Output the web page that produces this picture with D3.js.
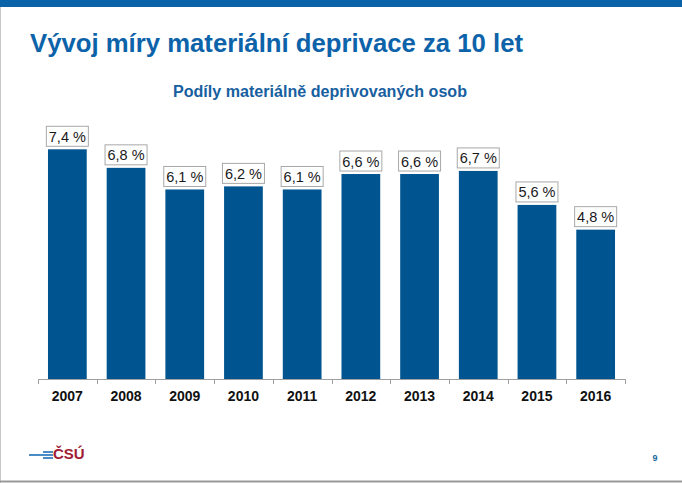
<!DOCTYPE html>
<html><head><meta charset="utf-8">
<script src="https://cdn.jsdelivr.net/npm/d3@7"></script>
<style>body{margin:0;background:#fff}svg{display:block}</style>
</head><body>
<script>
const years = ["2007","2008","2009","2010","2011","2012","2013","2014","2015","2016"];
const shares = [7.4, 6.8, 6.1, 6.2, 6.1, 6.6, 6.6, 6.7, 5.6, 4.8];
const titleText = "Vývoj míry materiální deprivace za 10 let";
const subtitleText = "Podíly materiálně deprivovaných osob";

const W = 682, H = 483;
const FONT = "Liberation Sans, Arial, sans-serif";
const svg = d3.select("body").append("svg").attr("width", W).attr("height", H);
svg.append("rect").attr("width", W).attr("height", H).attr("fill", "#fff");
// frame
svg.append("rect").attr("x", 0).attr("y", 0).attr("width", W).attr("height", 7).attr("fill", "#0a62a8");
svg.append("line").attr("x1", 0.5).attr("x2", 0.5).attr("y1", 7).attr("y2", H).attr("stroke", "#c8c8c8");
svg.append("line").attr("x1", 0).attr("x2", W).attr("y1", 481.5).attr("y2", 481.5).attr("stroke", "#999").attr("stroke-width", 2);

svg.append("text").attr("x", 30).attr("y", 52).text(titleText)
  .attr("font-family", FONT).attr("font-weight", "bold")
  .attr("font-size", 26).attr("textLength", 493).attr("lengthAdjust", "spacingAndGlyphs")
  .attr("fill", "#0d63aa");
svg.append("text").attr("x", 173).attr("y", 97).text(subtitleText)
  .attr("font-family", FONT).attr("font-weight", "bold")
  .attr("font-size", 16).attr("textLength", 294).attr("lengthAdjust", "spacingAndGlyphs")
  .attr("fill", "#17609f");

const x = d3.scaleBand().domain(years).range([38, 625]).paddingInner(0.34).paddingOuter(0.17);
const y = d3.scaleLinear().domain([0, 7.4]).range([378, 149.3]);
const axisY = 379;

const g = svg.append("g");
g.selectAll("rect.bar").data(years).join("rect").attr("class", "bar")
  .attr("x", d => x(d)).attr("width", x.bandwidth())
  .attr("y", (d, i) => y(shares[i])).attr("height", (d, i) => axisY - y(shares[i]))
  .attr("fill", "#005591");

// axis
const axisG = svg.append("g");
axisG.append("line").attr("x1", 38).attr("x2", 625).attr("y1", axisY + 0.5).attr("y2", axisY + 0.5).attr("stroke", "#a0a0a0");
const tickX = years.map(d => x(d) - x.step() * x.paddingInner() / 2).concat([625]);
tickX[0] = 38;
axisG.selectAll("line.tick").data(tickX).join("line").attr("class", "tick")
  .attr("x1", d => Math.round(d) + 0.5).attr("x2", d => Math.round(d) + 0.5)
  .attr("y1", axisY).attr("y2", axisY + 5).attr("stroke", "#a0a0a0");
axisG.selectAll("text").data(years).join("text")
  .attr("x", d => x(d) + x.bandwidth() / 2).attr("y", 401).attr("text-anchor", "middle")
  .attr("font-family", FONT).attr("font-weight", "bold")
  .attr("font-size", 14).attr("fill", "#111").text(d => d);

// value labels
const fmt = v => d3.format(".1f")(v).replace(".", ",") + " %";
const lab = svg.append("g").selectAll("g").data(years).join("g")
  .attr("transform", (d, i) => `translate(${x(d) + x.bandwidth() / 2},${y(shares[i]) - 2})`);
lab.append("rect").attr("x", -21).attr("y", -21).attr("width", 42).attr("height", 20)
  .attr("fill", "#fff").attr("stroke", "#a8a8a8");
lab.append("text").attr("y", -5.5).attr("text-anchor", "middle")
  .attr("font-family", FONT).attr("font-size", 14.5)
  .attr("fill", "#1a1a1a").text((d, i) => fmt(shares[i]));

// logo
const logo = svg.append("g");
logo.append("line").attr("x1", 29).attr("x2", 53).attr("y1", 455).attr("y2", 455).attr("stroke", "#1d6fb8").attr("stroke-width", 1.6);
logo.append("line").attr("x1", 43).attr("x2", 53).attr("y1", 452).attr("y2", 452).attr("stroke", "#1d6fb8").attr("stroke-width", 1.6);
logo.append("line").attr("x1", 43).attr("x2", 53).attr("y1", 458).attr("y2", 458).attr("stroke", "#1d6fb8").attr("stroke-width", 1.6);
logo.append("text").attr("x", 53).attr("y", 459).text("ČSÚ")
  .attr("font-family", FONT).attr("font-weight", "bold")
  .attr("font-size", 15).attr("fill", "#a01c34");

svg.append("text").attr("x", 655).attr("y", 461).attr("text-anchor", "middle").text("9")
  .attr("font-family", FONT).attr("font-weight", "bold")
  .attr("font-size", 9).attr("fill", "#1a6a9a");
</script>
</body></html>
